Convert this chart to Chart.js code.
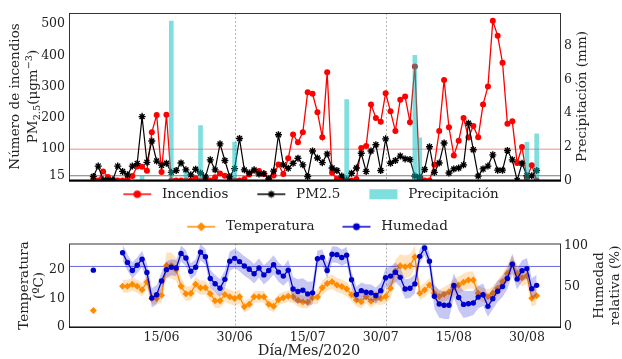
<!DOCTYPE html>
<html lang="es">
<head>
<meta charset="utf-8">
<title>Incendios, PM2.5 y meteorología 2020</title>
<script src="https://cdn.jsdelivr.net/npm/chart.js@4.4.1/dist/chart.umd.min.js"></script>
<style>
  html, body { margin: 0; padding: 0; background: #fff; }
  #lienzo { position: relative; width: 622px; height: 359px; overflow: hidden; background: #fff; }
  #lienzo canvas { position: absolute; left: 0; }
  #grafArriba { top: 0; }
  #grafAbajo { top: 204px; }
</style>
</head>
<body>
<div id="lienzo">
  <canvas id="grafArriba" width="622" height="211"></canvas>
  <canvas id="grafAbajo" width="622" height="155"></canvas>
</div>
<script>
// ---------- datos (índice de día, 0 = 01/06/2020) ----------
const incendios = [
  2, 0, 29, 11, 0, 0, 0, 4, 14, 45,
  44, 31, 154, 209, 27, 210, 0, 0, 0, 0,
  0, 7, 0, 0, 0, 10, 22, 15, 3, 0,
  0, 5, 19, 32, 30, 21, 7, 16, 51, 21,
  71, 147, 122, 154, 282, 277, 218, 138, 346, 25,
  5, 0, 0, 0, 5, 104, 110, 243, 200, 188,
  279, 221, 158, 258, 268, 186, 364, 3, 0, 0,
  50, 158, 321, 170, 80, 127, 200, 137, 174, 138,
  243, 300, 510, 462, 376, 181, 189, 56, 107, 8,
  49, 0,
];
const pm25 = [
  13, 46, 2, 1, 2, 46, 29, 18, 46, 54,
  204, 58, 126, 62, 49, 55, 26, 32, 56, 34,
  18, 36, 24, 11, 66, 34, 117, 64, 12, 38,
  134, 34, 24, 34, 21, 22, 5, 30, 146, 50,
  39, 55, 71, 50, 13, 94, 72, 57, 85, 40,
  32, 14, 2, 23, 40, 87, 29, 94, 114, 32,
  133, 55, 64, 78, 69, 67, 14, 11, 35, 108,
  26, 56, 120, 24, 37, 40, 50, 183, 98, 14,
  37, 46, 82, 33, 33, 96, 66, 0, 55, 15,
  15, 32,
];
const diasLluvia = [10, 16, 19, 22, 29, 52, 66, 67, 89, 91];
const lluvia = [0.25, 9.45, 0.5, 3.26, 2.27, 4.79, 7.42, 2.53, 2.27, 2.77];

const temperatura = [
  5.8, null, null, null, null, null, 14.3, 14.3, 15, 14.3,
  13.1, 15.8, 10, 10, 11.1, 21.6, 21.6, 20.1, 14.3, 11.7,
  11.8, 15, 13.8, 13.8, 11.7, 9.2, 9.2, 11.4, 10.6, 10,
  10.6, 7.1, 8, 10.6, 10.6, 10.6, 8, 7.3, 9.6, 10.3,
  10.8, 10.6, 9.4, 8.8, 8.8, 10.3, 10.5, 13.8, 15.3, 15.9,
  14.7, 14.2, 13.3, 11.3, 9.5, 8.9, 10.7, 9, 10.3, 10,
  10.7, 13.6, 19.6, 21.5, 21.1, 21.5, 24.6, 11.8, 13, 14.7,
  11.8, 10.7, 11.5, 12.4, 13.9, 14.7, 15.7, 16.5, 16.5, 11.8,
  11.3, 10.7, 11.8, 13.6, 15.9, 18.8, 22.1, 18.8, 17.3, 18,
  10.1, 11,
];
const tempDesv = [
  0, null, null, null, null, null, 2.3, 2.3, 2.3, 2.3,
  2.3, 2.3, 2, 2, 2.5, 4.5, 4.5, 4, 3, 2.5,
  2.5, 2.5, 2.5, 2.5, 2.5, 2.5, 2.5, 2.5, 2.5, 2.5,
  2.5, 2, 2, 2, 2, 2, 2, 2, 2, 2,
  2, 2.2, 2.2, 2.2, 2.2, 2.2, 2.5, 2.5, 2.5, 2.5,
  2.5, 2.5, 2.5, 2.3, 2.3, 2.3, 2.3, 2.3, 2.3, 2.3,
  2.5, 3.5, 4, 4, 4, 4, 4, 2.5, 2.5, 2.5,
  2.5, 2.5, 2.5, 2.7, 3, 3, 3, 3, 3, 2.5,
  2.5, 2.5, 2.5, 2.7, 3, 3, 3, 3, 3, 3,
  3, 3,
];
const humedad = [
  70.4, null, null, null, null, null, 92, 80, 70, 76.5,
  84, 67.5, 36, 40, 57, 71, 74, 73, 91, 85.4,
  69, 74, 92.7, 87, 60, 53.5, 48, 59, 81.5, 85,
  81, 75.5, 71.5, 66, 73, 64.5, 70, 77, 68, 63,
  70.4, 47, 44, 45.5, 41, 42.3, 84.6, 86, 70, 90,
  89.6, 86, 89, 58.5, 40.2, 45, 43, 42.5, 39, 45,
  61, 63, 67.8, 61.5, 47, 48, 53.4, 87.5, 97.8, 81.5,
  38, 28.4, 27, 27, 51.5, 36.5, 28, 28.7, 29.8, 37,
  40, 25.6, 35, 44.3, 50, 60, 77.8, 59.3, 69.8, 72.3,
  47.3, 51.6,
];
const humDesv = [
  0, null, null, null, null, null, 10, 10, 10, 10,
  10, 11, 12, 12, 11, 10, 10, 10, 10, 10,
  10, 10, 10, 10, 11, 11, 11, 11, 12, 12,
  12, 12, 12, 12, 12, 12, 12, 12, 12, 12,
  13, 15, 15, 15, 15, 14, 10, 10, 10, 10,
  10, 10, 10, 10, 10, 10, 10, 10, 10, 10,
  12, 12, 12, 12, 12, 12, 12, 9, 9, 10,
  15, 17, 17, 17, 15, 16, 17, 16, 15, 14,
  14, 13, 13, 13, 13, 13, 13, 13, 13, 13,
  13, 13,
];

const xTicks = [14, 29, 44, 59, 74, 89];
const xEtiquetas = ["15/06", "30/06", "15/07", "30/07", "15/08", "30/08"];
const ticksIncendios = [15, 100, 200, 300, 400, 500];
const ticksLluvia = [0, 2, 4, 6, 8];
const ticksTemp = [0, 10, 20];
const ticksHum = [0, 50, 100];
const lineasVerticales = [29, 60];

// ---------- estilo ----------
const FUENTE = "'DejaVu Serif', 'Liberation Serif', serif";
const TAM_TITULO = 13.5;
const ROJO = "#ff0000";
const NEGRO = "#000000";
const CIAN = "rgba(0, 191, 191, 0.5)";
const NARANJA = "#ff8c00";
const AZUL = "#0000cd";

Chart.defaults.font.family = FUENTE;
Chart.defaults.font.size = 12.5;
Chart.defaults.color = "#222";

const puntos = (serie) => serie.map((v, i) => ({ x: i, y: v }));
// banda = valor ± desviación, solo en el tramo continuo (sin huecos)
const banda = (serie, desv, signo) =>
  serie.flatMap((v, i) => (desv[i] ? [{ x: i, y: v + signo * desv[i] }] : []));

// icono de leyenda: hueco a la izquierda (separación entre entradas) + línea con marcador
function icono(color, estilo, radio) {
  const c = document.createElement("canvas");
  c.width = 54;
  c.height = 14;
  const ctx = c.getContext("2d");
  ctx.fillStyle = color;
  ctx.strokeStyle = color;
  if (estilo === "barra") {
    ctx.fillRect(22, 2, 28, 10);
    return c;
  }
  ctx.lineWidth = 1.5;
  ctx.beginPath();
  ctx.moveTo(22, 7);
  ctx.lineTo(50, 7);
  ctx.stroke();
  if (Chart.helpers && Chart.helpers.drawPoint) {
    Chart.helpers.drawPoint(ctx, { pointStyle: estilo, radius: radio, borderWidth: 1.3, rotation: 0 }, 36, 7);
  } else {
    ctx.beginPath();
    ctx.arc(36, 7, radio, 0, Math.PI * 2);
    ctx.fill();
  }
  return c;
}

function dibujarTitulo(ctx, t) {
  const tam = t.tam || TAM_TITULO;
  ctx.save();
  ctx.translate(t.x, t.y);
  if (t.vertical) ctx.rotate(-Math.PI / 2);
  ctx.textBaseline = "middle";
  ctx.textAlign = "left";
  ctx.fillStyle = "#222";
  const partes = t.partes || [{ texto: t.texto }];
  const fuente = (p) => `${p.sub || p.sup ? tam * 0.72 : tam}px ${FUENTE}`;
  let ancho = 0;
  partes.forEach((p) => {
    ctx.font = fuente(p);
    ancho += ctx.measureText(p.texto).width;
  });
  let x = -ancho / 2;
  partes.forEach((p) => {
    ctx.font = fuente(p);
    const dy = p.sub ? 3.5 : p.sup ? -4.5 : 0;
    ctx.fillText(p.texto, x, dy);
    x += ctx.measureText(p.texto).width;
  });
  ctx.restore();
}

// líneas de referencia, marco y títulos de ejes
function crearGuias(conf) {
  return {
    id: "guias",
    beforeDatasetsDraw(chart) {
      const { ctx, chartArea: a, scales } = chart;
      ctx.save();
      ctx.beginPath();
      ctx.rect(a.left, a.top, a.width, a.height);
      ctx.clip();
      conf.horizontales.forEach((h) => {
        const y = scales[h.eje].getPixelForValue(h.valor);
        ctx.strokeStyle = h.color;
        ctx.lineWidth = h.ancho;
        ctx.beginPath();
        ctx.moveTo(a.left, y);
        ctx.lineTo(a.right, y);
        ctx.stroke();
      });
      ctx.setLineDash([2, 2]);
      ctx.strokeStyle = "#b4b4b4";
      ctx.lineWidth = 1;
      lineasVerticales.forEach((d) => {
        const x = Math.round(scales.x.getPixelForValue(d)) + 0.5;
        ctx.beginPath();
        ctx.moveTo(x, a.top);
        ctx.lineTo(x, a.bottom);
        ctx.stroke();
      });
      ctx.restore();
    },
    afterDraw(chart) {
      const { ctx, chartArea: a } = chart;
      ctx.save();
      ctx.strokeStyle = "#333";
      ctx.lineWidth = 1;
      ctx.strokeRect(a.left + 0.5, a.top + 0.5, a.width - 1, a.height);
      ctx.strokeStyle = "#000";
      ctx.lineWidth = conf.baseGruesa ? 1.8 : 1.2;
      ctx.beginPath();
      ctx.moveTo(a.left, a.bottom);
      ctx.lineTo(a.right, a.bottom);
      ctx.stroke();
      ctx.restore();
      conf.titulos.forEach((t) => dibujarTitulo(ctx, t));
    },
  };
}

function leyenda(posicion, iconos, relleno) {
  return {
    position: posicion,
    labels: {
      usePointStyle: true,
      pointStyleWidth: 54,
      padding: relleno,
      color: "#222",
      font: { size: 13.5 },
      filter: (it) => !!iconos[it.datasetIndex],
      sort: (a, b) => a.datasetIndex - b.datasetIndex,
      generateLabels: (chart) => {
        const items = Chart.defaults.plugins.legend.labels.generateLabels(chart);
        items.forEach((it) => {
          it.pointStyle = iconos[it.datasetIndex] || it.pointStyle;
        });
        return items;
      },
    },
  };
}

const ejeY = (pos, min, max, ticks, ancho) => ({
  position: pos,
  min: min,
  max: max,
  afterFit: (s) => { s.width = ancho; },
  afterBuildTicks: (s) => { s.ticks = ticks.map((v) => ({ value: v })); },
  grid: { display: false, drawTicks: false },
  border: { display: false },
  ticks: { padding: pos === "left" ? 4 : 3, color: "#222", font: { size: 12.5 } },
});

// ---------- gráfico superior ----------
const iconosArriba = {
  0: icono(ROJO, "circle", 3),
  1: icono(NEGRO, "star", 3.5),
  2: icono(CIAN, "barra"),
};

new Chart(document.getElementById("grafArriba"), {
  type: "line",
  data: {
    datasets: [
      {
        label: "Incendios",
        data: puntos(incendios),
        yAxisID: "y",
        borderColor: ROJO,
        backgroundColor: ROJO,
        borderWidth: 1.3,
        pointStyle: "circle",
        pointRadius: 3,
        pointBorderWidth: 0,
        order: 2,
      },
      {
        label: "PM2.5",
        data: puntos(pm25),
        yAxisID: "y",
        borderColor: NEGRO,
        backgroundColor: NEGRO,
        borderWidth: 1.2,
        pointStyle: "star",
        pointRadius: 3.5,
        pointBorderWidth: 1.4,
        order: 1,
      },
      {
        type: "bar",
        label: "Precipitación",
        data: diasLluvia.map((d, k) => ({ x: d, y: lluvia[k] })),
        yAxisID: "y2",
        backgroundColor: CIAN,
        borderWidth: 0,
        barThickness: 4,
        order: 0,
      },
    ],
  },
  options: {
    responsive: false,
    animation: false,
    events: [],
    layout: { padding: { top: 13, right: 22, left: 0, bottom: 0 } },
    scales: {
      x: { type: "linear", min: -5, max: 96, display: false, offset: false },
      y: ejeY("left", 0, 535, ticksIncendios, 69),
      y2: ejeY("right", 0, 9.93, ticksLluvia, 39),
    },
    plugins: {
      legend: leyenda("bottom", iconosArriba, 7),
      tooltip: { enabled: false },
    },
  },
  plugins: [
    crearGuias({
      baseGruesa: true,
      horizontales: [
        { eje: "y", valor: 100, color: "rgba(255, 0, 0, 0.32)", ancho: 1.6 },
        { eje: "y", valor: 15, color: "#7a7a7a", ancho: 1.1 },
      ],
      titulos: [
        { texto: "Número de incendios", x: 15, y: 96.5, vertical: true },
        {
          partes: [
            { texto: "PM" },
            { texto: "2.5", sub: true },
            { texto: "(μgm" },
            { texto: "−3", sup: true },
            { texto: ")" },
          ],
          x: 33.5,
          y: 96.5,
          vertical: true,
        },
        { texto: "Precipitación (mm)", x: 582, y: 96.5, vertical: true },
      ],
    }),
  ],
});

// ---------- gráfico inferior ----------
const iconosAbajo = {
  2: icono(NARANJA, "rectRot", 3.5),
  5: icono(AZUL, "circle", 2.7),
};

const sinBorde = { borderColor: "transparent", borderWidth: 0, pointRadius: 0 };

new Chart(document.getElementById("grafAbajo"), {
  type: "line",
  data: {
    datasets: [
      { ...sinBorde, data: banda(temperatura, tempDesv, 1), yAxisID: "y", fill: false, order: 3 },
      { ...sinBorde, data: banda(temperatura, tempDesv, -1), yAxisID: "y", fill: "-1", backgroundColor: "rgba(255, 140, 0, 0.25)", order: 3 },
      {
        label: "Temperatura",
        data: puntos(temperatura),
        yAxisID: "y",
        borderColor: NARANJA,
        backgroundColor: NARANJA,
        borderWidth: 1.3,
        pointStyle: "rectRot",
        pointRadius: 3.5,
        pointBorderWidth: 0,
        order: 2,
      },
      { ...sinBorde, data: banda(humedad, humDesv, 1), yAxisID: "y2", fill: false, order: 1 },
      { ...sinBorde, data: banda(humedad, humDesv, -1), yAxisID: "y2", fill: "-1", backgroundColor: "rgba(0, 0, 205, 0.22)", order: 1 },
      {
        label: "Humedad",
        data: puntos(humedad),
        yAxisID: "y2",
        borderColor: AZUL,
        backgroundColor: AZUL,
        borderWidth: 1.3,
        pointStyle: "circle",
        pointRadius: 2.7,
        pointBorderWidth: 0,
        order: 0,
      },
    ],
  },
  options: {
    responsive: false,
    animation: false,
    events: [],
    layout: { padding: { top: 10, right: 9, left: 0, bottom: 0 } },
    scales: {
      x: {
        type: "linear",
        min: -5,
        max: 96,
        offset: false,
        afterFit: (s) => { s.height = 32; },
        afterBuildTicks: (s) => { s.ticks = xTicks.map((v) => ({ value: v })); },
        grid: { display: false, drawTicks: false },
        border: { display: false },
        ticks: {
          autoSkip: false,
          maxRotation: 0,
          padding: 3,
          color: "#222",
          font: { size: 12.5 },
          callback: (v) => xEtiquetas[xTicks.indexOf(v)],
        },
      },
      y: ejeY("left", 0, 29.3, ticksTemp, 69),
      y2: ejeY("right", 0, 103.4, ticksHum, 52),
    },
    plugins: {
      legend: leyenda("top", iconosAbajo, 6),
      tooltip: { enabled: false },
    },
  },
  plugins: [
    crearGuias({
      baseGruesa: false,
      horizontales: [{ eje: "y2", valor: 75, color: "rgba(0, 0, 205, 0.6)", ancho: 1 }],
      titulos: [
        { texto: "Temperatura", x: 24, y: 81.5, vertical: true },
        { texto: "(ºC)", x: 39, y: 81.5, vertical: true },
        { texto: "Humedad", x: 599, y: 81.5, vertical: true },
        { texto: "relativa (%)", x: 615, y: 81.5, vertical: true },
        { texto: "Día/Mes/2020", x: 309, y: 147, vertical: false, tam: 14.5 },
      ],
    }),
  ],
});
</script>
</body>
</html>
